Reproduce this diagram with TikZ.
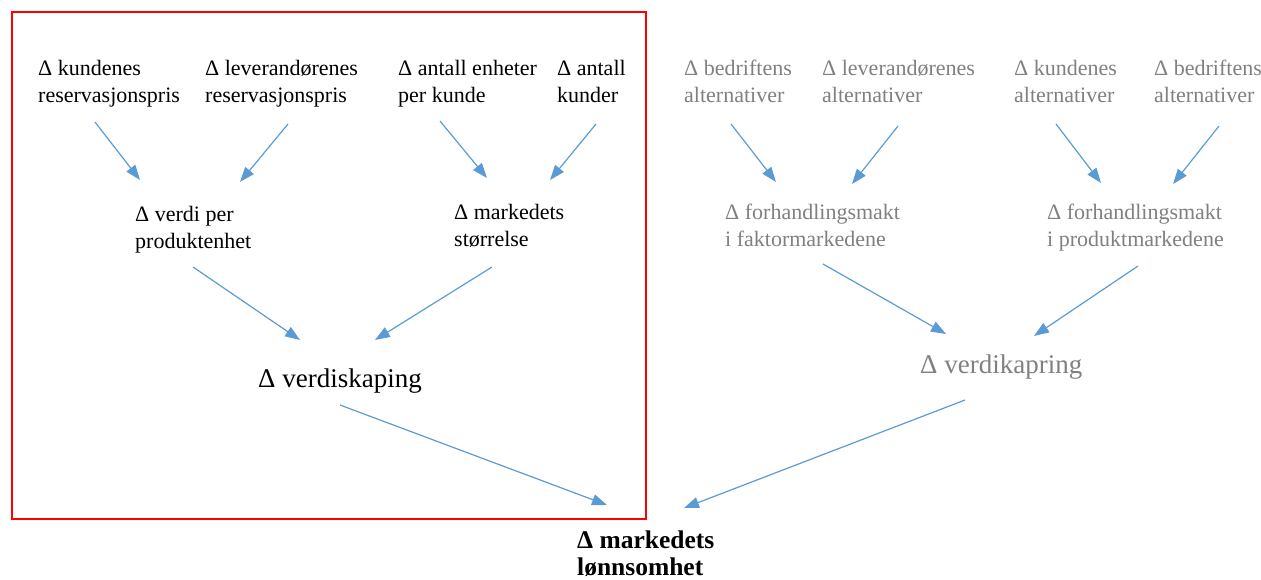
\documentclass[tikz,border=0pt]{standalone}
\usepackage{fontspec}
\setmainfont{Liberation Serif}
\usetikzlibrary{arrows.meta}
\definecolor{pilblaa}{HTML}{5B9BD5}
\definecolor{graa}{HTML}{808080}
\begin{document}
\begin{tikzpicture}[x=1pt,y=-1pt,
txt/.style={anchor=base west,inner sep=0pt,align=left,font=\fontsize{22}{27}\selectfont},
stor/.style={txt,font=\fontsize{27}{31}\selectfont},
pil/.style={draw=pilblaa,line width=1.2pt,-{Triangle[length=15pt,width=11pt]}}]
\useasboundingbox(0,0)rectangle(1261,579);
\draw[red,line width=2.5pt](12,12)rectangle(646,519);
% verdiskaping
\node[txt](kund)at(38,102){Δ kundenes\\reservasjonspris};
\node[txt](lev)at(205,102){Δ leverandørenes\\reservasjonspris};
\node[txt](enh)at(398,102){Δ antall enheter\\per kunde};
\node[txt](ant)at(557,102){Δ antall\\kunder};
\node[txt](verdi)at(135,248){Δ verdi per\\produktenhet};
\node[txt](mstr)at(454,246){Δ markedets\\størrelse};
\node[stor](skap)at(258,387){Δ verdiskaping};
% verdikapring
\begin{scope}[every node/.append style={text=graa}]
\node[txt](balt)at(684,102){Δ bedriftens\\alternativer};
\node[txt](lalt)at(822,102){Δ leverandørenes\\alternativer};
\node[txt](kalt)at(1014,102){Δ kundenes\\alternativer};
\node[txt](balt2)at(1154,102){Δ bedriftens\\alternativer};
\node[txt](fakt)at(725,246){Δ forhandlingsmakt\\i faktormarkedene};
\node[txt](prod)at(1047,246){Δ forhandlingsmakt\\i produktmarkedene};
\node[stor](kapr)at(920,373){Δ verdikapring};
\end{scope}
\node[txt,font=\bfseries\fontsize{25.5}{27}\selectfont](lonn)at(577,575){Δ markedets\\lønnsomhet};
% piler
\draw[pil]([shift={(57,20)}]kund.base west)--([shift={(5,-68)}]verdi.base west);
\draw[pil]([shift={(83,22)}]lev.base west)--([shift={(105,-66)}]verdi.base west);
\draw[pil]([shift={(42,19)}]enh.base west)--([shift={(33,-68)}]mstr.base west);
\draw[pil]([shift={(39,22)}]ant.base west)--([shift={(96,-66)}]mstr.base west);
\draw[pil]([shift={(58,19)}]verdi.base west)--([shift={(42,-47)}]skap.base west);
\draw[pil]([shift={(38,21)}]mstr.base west)--([shift={(117,-47)}]skap.base west);
\draw[pil]([shift={(82,18)}]skap.base west)--([shift={(30,-70)}]lonn.base west);
\draw[pil]([shift={(47,22)}]balt.base west)--([shift={(51,-64)}]fakt.base west);
\draw[pil]([shift={(76,24)}]lalt.base west)--([shift={(127,-62)}]fakt.base west);
\draw[pil]([shift={(42,22)}]kalt.base west)--([shift={(54,-63)}]prod.base west);
\draw[pil]([shift={(65,24)}]balt2.base west)--([shift={(126,-62)}]prod.base west);
\draw[pil]([shift={(98,18)}]fakt.base west)--([shift={(26,-39)}]kapr.base west);
\draw[pil]([shift={(91,20)}]prod.base west)--([shift={(114,-37)}]kapr.base west);
\draw[pil]([shift={(45,27)}]kapr.base west)--([shift={(107,-67)}]lonn.base west);
\end{tikzpicture}
\end{document}
